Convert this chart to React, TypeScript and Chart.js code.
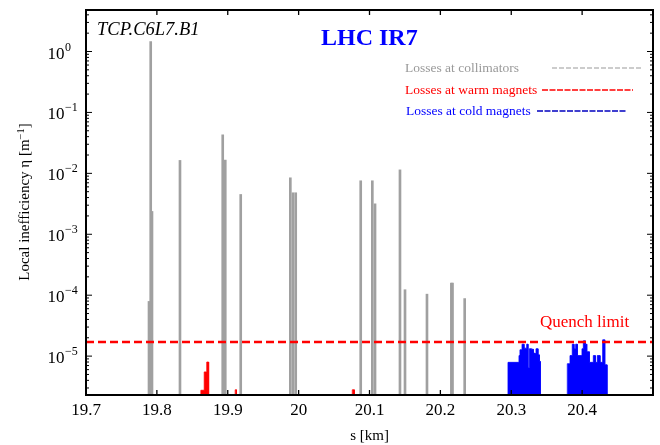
import React, { useEffect, useRef } from "react";
import { Chart, registerables } from "chart.js";

Chart.register(...registerables);

// ---------- axis ranges & ticks ----------
const X_MIN = 19.7;
const X_MAX = 20.5;
const Y_MIN = 2.3e-6;
const Y_MAX = 4.8;
const xTickValues = [19.7, 19.8, 19.9, 20.0, 20.1, 20.2, 20.3, 20.4, 20.5];
const xTickLabels = ["19.7", "19.8", "19.9", "20", "20.1", "20.2", "20.3", "20.4", ""];
const yTickExponents = [-5, -4, -3, -2, -1, 0];
const quenchLimit = 1.7e-5;

// ---------- losses at collimators (s [km], eta) ----------
const collimatorS = [
  19.7889, 19.7931, 19.7913, 19.8326, 19.8929, 19.8965, 19.9183, 19.9883, 19.9921,
  19.9959, 20.0876, 20.104, 20.1078, 20.143, 20.1501, 20.1811, 20.2155, 20.2171, 20.2343,
];
const collimatorLoss = [
  7.9e-5, 2.37e-3, 1.46, 1.63e-2, 4.29e-2, 1.65e-2, 4.5e-3, 8.45e-3, 4.8e-3,
  4.8e-3, 7.55e-3, 7.55e-3, 3.16e-3, 1.14e-2, 1.23e-4, 1.04e-4, 1.58e-4, 1.58e-4, 8.8e-5,
];

// ---------- losses at warm magnets (bin edges, values) ----------
const warmEdgesA = [19.862, 19.8668, 19.8704, 19.873];
const warmLossA = [2.75e-6, 5.5e-6, 8.0e-6];
const warmEdgesB = [19.9105, 19.9123];
const warmLossB = [2.8e-6];
const warmEdgesC = [20.0757, 20.0786];
const warmLossC = [2.8e-6];

// ---------- losses at cold magnets (bin edges, values) ----------
const coldEdgesA = [
  20.2954, 20.3109, 20.3123, 20.3152, 20.318, 20.3218, 20.3236, 20.3255, 20.3283,
  20.3311, 20.3331, 20.3349, 20.3377, 20.3396, 20.341,
];
const coldLossA = [
  7.9e-6, 1.02e-5, 1.27e-5, 1.57e-5, 1.35e-5, 1.57e-5, 6.4e-6, 1.32e-5, 1.3e-5,
  1.12e-5, 1.1e-5, 1.32e-5, 1.05e-5, 8.2e-6,
];
const coldEdgesB = [
  20.3791, 20.3829, 20.3861, 20.3885, 20.3909, 20.3932, 20.3998, 20.4017, 20.4045,
  20.4065, 20.4101, 20.4158, 20.4186, 20.4214, 20.4252, 20.429, 20.4319, 20.4351,
];
const coldLossB = [
  7.5e-6, 1.02e-5, 1.57e-5, 1.32e-5, 1.57e-5, 1.02e-5, 1.32e-5, 1.78e-5, 1.57e-5,
  1.18e-5, 7.9e-6, 1.02e-5, 7.9e-6, 1.02e-5, 7.9e-6, 1.85e-5, 7.2e-6,
];

const SERIF = "'Liberation Serif', 'Times New Roman', 'DejaVu Serif', serif";
const GRAY = "#a0a0a0";
const RED = "#ff0000";
const BLUE = "#0000ff";

// histogram outline: each bin contributes its left and right corner
function histPoints(edges: number[], values: number[]) {
  const pts: { x: number; y: number }[] = [{ x: edges[0], y: Y_MIN }];
  for (let i = 0; i < values.length; i++) {
    pts.push({ x: edges[i], y: values[i] });
    pts.push({ x: edges[i + 1], y: values[i] });
  }
  pts.push({ x: edges[edges.length - 1], y: Y_MIN });
  return pts;
}

function histDataset(edges: number[], values: number[], color: string) {
  return {
    type: "line" as const,
    data: histPoints(edges, values),
    borderColor: color,
    backgroundColor: color,
    borderWidth: 0.8,
    pointRadius: 0,
    tension: 0,
    fill: "start",
    order: 1,
  };
}

const decorPlugin = {
  id: "decor",
  afterDraw(chart: any) {
    const { ctx, chartArea } = chart;
    const { left, right, top, bottom } = chartArea;
    const xs = chart.scales.x;
    const ys = chart.scales.y;
    ctx.save();

    // frame
    ctx.strokeStyle = "#000";
    ctx.lineWidth = 2;
    ctx.setLineDash([]);
    ctx.strokeRect(left, top, right - left, bottom - top);

    // x ticks + labels
    ctx.lineWidth = 1.3;
    ctx.fillStyle = "#000";
    ctx.font = `17px ${SERIF}`;
    ctx.textAlign = "center";
    ctx.textBaseline = "alphabetic";
    xTickValues.forEach((v, i) => {
      const px = xs.getPixelForValue(v);
      ctx.beginPath();
      ctx.moveTo(px, bottom);
      ctx.lineTo(px, bottom - 5);
      ctx.moveTo(px, top);
      ctx.lineTo(px, top + 5);
      ctx.stroke();
      if (xTickLabels[i]) ctx.fillText(xTickLabels[i], px, 415);
    });

    // y ticks (major + minor)
    ctx.lineWidth = 1;
    for (let e = -6; e <= 0; e++) {
      for (let k = 1; k <= 9; k++) {
        const v = k * Math.pow(10, e);
        if (v < Y_MIN || v > Y_MAX) continue;
        const py = ys.getPixelForValue(v);
        const len = k === 1 ? 6 : 3;
        ctx.beginPath();
        ctx.moveTo(left, py);
        ctx.lineTo(left + len, py);
        ctx.moveTo(right, py);
        ctx.lineTo(right - len, py);
        ctx.stroke();
      }
    }

    // y labels 10^n
    yTickExponents.forEach((e) => {
      const py = ys.getPixelForValue(Math.pow(10, e));
      ctx.font = `17px ${SERIF}`;
      ctx.textAlign = "right";
      ctx.fillText("10", 64.5, py + 7);
      ctx.font = `12px ${SERIF}`;
      ctx.textAlign = "left";
      ctx.fillText(e === 0 ? "0" : "\u2212" + String(-e), 65, py - 1);
    });

    // x title
    ctx.font = `15px ${SERIF}`;
    ctx.textAlign = "center";
    ctx.fillText("s [km]", (left + right) / 2, 440);

    // y title (rotated)
    ctx.save();
    ctx.translate(29, 202);
    ctx.rotate(-Math.PI / 2);
    const p1 = "Local inefficiency \u03b7 [m";
    const p2 = "\u22121";
    const p3 = "]";
    ctx.font = `15px ${SERIF}`;
    const w1 = ctx.measureText(p1).width;
    const w3 = ctx.measureText(p3).width;
    ctx.font = `10.5px ${SERIF}`;
    const w2 = ctx.measureText(p2).width;
    const total = w1 + w2 + w3;
    let cx = -total / 2;
    ctx.textAlign = "left";
    ctx.font = `15px ${SERIF}`;
    ctx.fillText(p1, cx, 0);
    cx += w1;
    ctx.font = `10.5px ${SERIF}`;
    ctx.fillText(p2, cx, -5.5);
    cx += w2;
    ctx.font = `15px ${SERIF}`;
    ctx.fillText(p3, cx, 0);
    ctx.restore();

    // labels in plot
    ctx.textAlign = "left";
    ctx.fillStyle = "#000";
    ctx.font = `italic 18.5px ${SERIF}`;
    ctx.fillText("TCP.C6L7.B1", 97, 35);

    ctx.fillStyle = BLUE;
    ctx.font = `bold 24px ${SERIF}`;
    ctx.fillText("LHC IR7", 321, 45);

    // legend
    ctx.font = `13.5px ${SERIF}`;
    ctx.textBaseline = "middle";
    const legend = [
      { text: "Losses at collimators", color: "#999999", tx: 405, y: 68, x1: 552, x2: 643, dash: [5, 2], lw: 1 },
      { text: "Losses at warm magnets", color: RED, tx: 405, y: 90, x1: 542, x2: 633, dash: [6, 1.5], lw: 1.3 },
      { text: "Losses at cold magnets", color: BLUE, tx: 406, y: 111, x1: 537, x2: 627, dash: [6, 1.5], lw: 1.3 },
    ];
    legend.forEach((l) => {
      ctx.fillStyle = l.color;
      ctx.fillText(l.text, l.tx, l.y);
      ctx.strokeStyle = l.color === BLUE ? "#0000c0" : l.color;
      ctx.lineWidth = l.lw;
      ctx.setLineDash(l.dash);
      ctx.beginPath();
      ctx.moveTo(l.x1, l.y);
      ctx.lineTo(l.x2, l.y);
      ctx.stroke();
    });
    ctx.setLineDash([]);

    ctx.fillStyle = RED;
    ctx.font = `17px ${SERIF}`;
    ctx.textBaseline = "alphabetic";
    ctx.fillText("Quench limit", 540, 327);

    ctx.restore();
  },
};

export default function App() {
  const canvasRef = useRef<HTMLCanvasElement | null>(null);

  useEffect(() => {
    if (!canvasRef.current) return;
    const chart = new Chart(canvasRef.current, {
      type: "bar",
      data: {
        datasets: [
          {
            type: "line" as const,
            data: [
              { x: X_MIN, y: quenchLimit },
              { x: X_MAX, y: quenchLimit },
            ],
            borderColor: RED,
            borderWidth: 2.5,
            borderDash: [8, 4],
            pointRadius: 0,
            fill: false,
            order: 0,
          } as any,
          {
            type: "bar" as const,
            data: collimatorS.map((s, i) => ({ x: s, y: collimatorLoss[i] })),
            backgroundColor: GRAY,
            borderWidth: 0,
            barThickness: 2,
            order: 2,
          } as any,
          histDataset(warmEdgesA, warmLossA, RED) as any,
          histDataset(warmEdgesB, warmLossB, RED) as any,
          histDataset(warmEdgesC, warmLossC, RED) as any,
          histDataset(coldEdgesA, coldLossA, BLUE) as any,
          histDataset(coldEdgesB, coldLossB, BLUE) as any,
        ],
      },
      options: {
        responsive: false,
        maintainAspectRatio: false,
        animation: false,
        devicePixelRatio: 1,
        layout: { padding: { left: 86, top: 10, right: 7, bottom: 50 } },
        plugins: {
          legend: { display: false },
          tooltip: { enabled: false },
        },
        scales: {
          x: { type: "linear", min: X_MIN, max: X_MAX, display: false, offset: false, grid: { offset: false } },
          y: { type: "logarithmic", min: Y_MIN, max: Y_MAX, display: false },
        },
      } as any,
      plugins: [decorPlugin],
    });
    return () => chart.destroy();
  }, []);

  return (
    <div style={{ position: "fixed", left: 0, top: 0, width: 660, height: 445, background: "#fff" }}>
      <canvas ref={canvasRef} width={660} height={445} style={{ display: "block", width: 660, height: 445 }} />
    </div>
  );
}
